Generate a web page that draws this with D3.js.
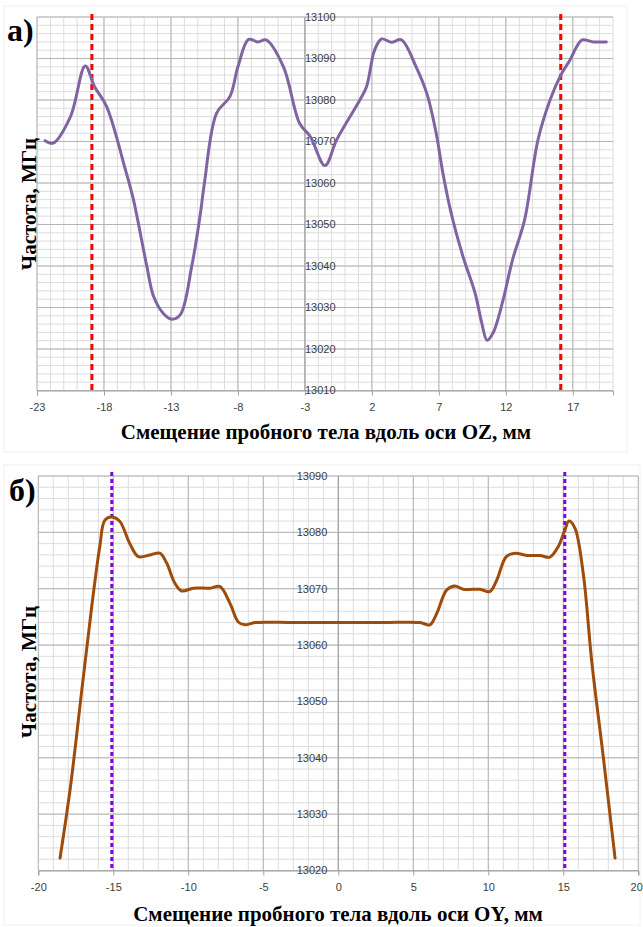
<!DOCTYPE html>
<html><head><meta charset="utf-8">
<script src="https://cdn.jsdelivr.net/npm/d3@7"></script>
<style>body{margin:0;background:#fff;} svg{display:block;}</style>
</head><body>
<svg id="c" width="643" height="927"></svg>
<script>
// ---- Chart a) data (OZ) ----
const ozX = [-22.4,-21.8,-20.5,-19.4,-18.7,-17.8,-16.4,-15.8,-14.8,-14.3,-13.6,-12.95,-12.3,-11.45,-10.8,-10.5,-9.6,-8.6,-8.0,-7.2,-6.5,-5.9,-4.6,-3.4,-2.6,-1.5,-0.63,1.1,1.6,2.2,2.72,3.47,4.2,5.3,6.1,6.8,7.3,7.9,8.8,9.7,10.2,10.6,11.05,11.8,12.5,13.4,14.4,15.3,16.1,16.8,17.3,17.7,18.5,19.5];
const ozF = [13070.2,13069.6,13076,13088.2,13083.2,13078.4,13063.2,13056,13039.9,13032.7,13028.7,13027.2,13028.3,13039.9,13052.7,13060,13076.8,13080.8,13088,13094.6,13094,13094.5,13088,13074.4,13071.2,13064.2,13070.4,13080,13083.2,13092,13094.7,13093.9,13094.5,13088,13081.6,13072,13062.4,13053,13042.3,13033.5,13026.3,13022.1,13023.9,13031.9,13041.5,13051.1,13070.4,13080,13086,13089.7,13092.9,13094.5,13094,13094];
const ozMarks = [-18.9, 16.1];
const ozXTicks = [-23,-18,-13,-8,-3,2,7,12,17];
const ozYTicks = [13010,13020,13030,13040,13050,13060,13070,13080,13090,13100];

// ---- Chart б) data (OY) ----
const oyX = [-18.55,-17.85,-17.1,-16.44,-15.9,-15.55,-15.0,-14.55,-13.9,-13.33,-12.55,-11.9,-11.45,-10.9,-10.44,-9.67,-8.55,-7.9,-7.22,-6.67,-6.22,-5.55,-3,0,3,5.44,6.11,6.56,7.23,7.78,8.33,9.44,10.1,10.56,11.2,11.78,12.56,13.45,14.1,14.67,15.1,15.38,15.78,16.33,16.9,17.65,18.45];
const oyF = [13022.2,13035,13052,13066.8,13077.5,13082.2,13082.7,13081.9,13078,13075.7,13076,13076.3,13074.6,13071,13069.6,13070.1,13070.1,13070.4,13067.4,13064.1,13063.6,13064,13064,13064,13064,13064,13063.6,13065.6,13069.8,13070.5,13069.9,13069.9,13069.5,13071.5,13075.7,13076.3,13075.9,13075.9,13075.6,13077.5,13080.4,13082,13080.7,13072.7,13057,13040.5,13022.2];
const oyMarks = [-15.1, 15.1];
const oyXTicks = [-20,-15,-10,-5,0,5,10,15,20];
const oyYTicks = [13020,13030,13040,13050,13060,13070,13080,13090];

const svg = d3.select("#c");
const tickFont = "'Liberation Sans', Arial, sans-serif";
const serif = "'Liberation Serif', 'Times New Roman', serif";

function drawChart(cfg){
  const g = svg.append("g");
  g.append("rect").attr("x",cfg.box[0]).attr("y",cfg.box[1]).attr("width",cfg.box[2]).attr("height",cfg.box[3])
    .attr("fill","none").attr("stroke","#f0f0f0").attr("stroke-width",1);
  const x = d3.scaleLinear().domain(cfg.xDom).range([cfg.left, cfg.right]);
  const y = d3.scaleLinear().domain(cfg.yDom).range([cfg.bottom, cfg.top]);
  const xMinor = d3.range(cfg.xDom[0], cfg.xDom[1]+0.001, 1);
  const yMinor = d3.range(cfg.yDom[0], cfg.yDom[1]+0.001, 2);
  g.selectAll(".vx").data(xMinor).enter().append("line")
    .attr("x1",d=>x(d)).attr("x2",d=>x(d)).attr("y1",cfg.top).attr("y2",cfg.bottom)
    .attr("stroke","#dcdcdc").attr("stroke-width",1);
  g.selectAll(".hy").data(yMinor).enter().append("line")
    .attr("y1",d=>y(d)).attr("y2",d=>y(d)).attr("x1",cfg.left).attr("x2",cfg.right)
    .attr("stroke","#dcdcdc").attr("stroke-width",1);
  g.selectAll(".vX").data(cfg.xTicks).enter().append("line")
    .attr("x1",d=>x(d)).attr("x2",d=>x(d)).attr("y1",cfg.top).attr("y2",cfg.bottom)
    .attr("stroke","#b4b4b4").attr("stroke-width",1);
  g.selectAll(".hY").data(cfg.yTicks).enter().append("line")
    .attr("y1",d=>y(d)).attr("y2",d=>y(d)).attr("x1",cfg.left).attr("x2",cfg.right)
    .attr("stroke","#b4b4b4").attr("stroke-width",1);
  const xAxis = d3.axisBottom(x).tickValues(cfg.xTicks).tickSize(5).tickPadding(8).tickFormat(d3.format("d"));
  const xa = g.append("g").attr("transform",`translate(0,${cfg.bottom})`).call(xAxis);
  xa.select(".domain").attr("stroke","#a0a0a0");
  xa.selectAll(".tick line").attr("stroke","#a0a0a0");
  xa.selectAll("text").attr("font-family",tickFont).attr("font-size","11px").attr("fill","#404040")
    .text(d=>String(d).replace("−","-"))
    .attr("text-anchor",d=>(x(d)+8>640)?"end":"middle")
    .attr("dx",d=>(x(d)+8>640)?"4":"0");
  g.append("line").attr("x1",x(cfg.yAxisAt)).attr("x2",x(cfg.yAxisAt)).attr("y1",cfg.top).attr("y2",cfg.bottom)
    .attr("stroke","#a0a0a0");
  g.selectAll(".yl").data(cfg.yTicks).enter().append("text")
    .attr("x",x(cfg.yAxisAt)+cfg.yLabDx).attr("y",d=>y(d)).attr("dy","0.35em")
    .attr("text-anchor",cfg.yLabAnchor).attr("font-family",tickFont).attr("font-size","11px").attr("fill","#404040")
    .text(d=>d);
  g.selectAll(".mk").data(cfg.marks).enter().append("line")
    .attr("x1",d=>x(d)).attr("x2",d=>x(d)).attr("y1",cfg.markTop).attr("y2",cfg.bottom)
    .attr("stroke",cfg.markColor).attr("stroke-width",3).attr("stroke-dasharray",cfg.markDash);
  const pts = cfg.xs.map((d,i)=>[d,cfg.fs[i]]);
  const line = d3.line().x(d=>x(d[0])).y(d=>y(d[1])).curve(d3.curveCatmullRom.alpha(0.5));
  g.append("path").attr("d",line(pts)).attr("fill","none").attr("stroke",cfg.color)
    .attr("stroke-width",cfg.lw).attr("stroke-linejoin","round").attr("stroke-linecap","round");
  g.append("text").attr("x",cfg.tag[0]).attr("y",cfg.tag[1]).attr("font-family",serif).attr("font-weight","bold")
    .attr("font-size","32px").attr("fill","#000").text(cfg.tagText);
  g.append("text").attr("transform",`translate(${cfg.yt[0]},${cfg.yt[1]}) rotate(-90)`).attr("text-anchor","middle")
    .attr("font-family",serif).attr("font-weight","bold").attr("font-size","21px").attr("fill","#000")
    .text("Частота, МГц");
  g.append("text").attr("x",cfg.xt[0]).attr("y",cfg.xt[1]).attr("text-anchor","middle")
    .attr("font-family",serif).attr("font-weight","bold").attr("font-size","21px").attr("fill","#000")
    .text(cfg.xTitle);
}

drawChart({
  box:[4,6,623,446],
  xDom:[-23,20], yDom:[13010,13100],
  left:37, right:613, top:17, bottom:390.5,
  xTicks:ozXTicks, yTicks:ozYTicks, yAxisAt:-3, yLabDx:0, yLabAnchor:"start",
  marks:ozMarks, markTop:14, markColor:"#ff0000", markDash:"6,4",
  xs:ozX, fs:ozF, color:"#8064a2", lw:3,
  tag:[7,41], tagText:"а)", yt:[36,204], xt:[326,439],
  xTitle:"Смещение пробного тела вдоль оси OZ, мм"
});
drawChart({
  box:[4,465,636,460],
  xDom:[-20,20], yDom:[13020,13090],
  left:38.3, right:638.3, top:476, bottom:870.5,
  xTicks:oyXTicks, yTicks:oyYTicks, yAxisAt:0, yLabDx:-11, yLabAnchor:"end",
  marks:oyMarks, markTop:472, markColor:"#8000e0", markDash:"4,3",
  xs:oyX, fs:oyF, color:"#9e4b0b", lw:3,
  tag:[9,501], tagText:"б)", yt:[36,672], xt:[338,921],
  xTitle:"Смещение пробного тела вдоль оси OY, мм"
});
</script>
</body></html>
